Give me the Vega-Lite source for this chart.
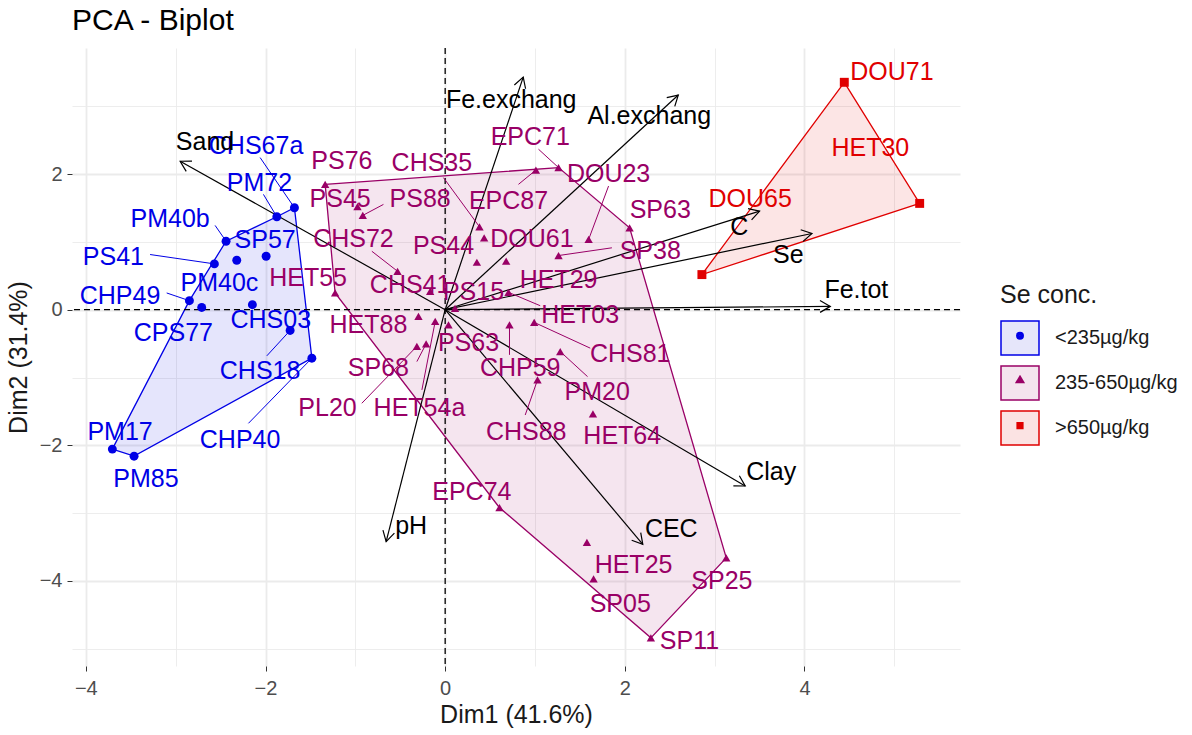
{
  "$schema": "https://vega.github.io/schema/vega-lite/v6.json",
  "autosize": {"type": "none"},
  "padding": {"left": 72, "top": 48, "right": 232, "bottom": 69},
  "width": 888,
  "height": 618,
  "background": "white",
  "title": {"text": "PCA - Biplot", "anchor": "start", "frame": "group", "fontSize": 30, "fontWeight": "normal", "color": "#000000", "offset": 11, "font": "Liberation Sans"},
  "config": {
    "font": "Liberation Sans",
    "view": {"stroke": null},
    "axis": {"domain": false, "gridColor": "#EBEBEB", "labelColor": "#4D4D4D", "labelFontSize": 20, "titleFontSize": 25, "titleFontWeight": "normal", "titleColor": "#1A1A1A", "tickColor": "#333333", "tickSize": 5, "tickWidth": 1},
    "legend": {"titleFontSize": 25, "titleFontWeight": "normal", "titleColor": "#1A1A1A", "titlePadding": 10, "labelFontSize": 20, "labelColor": "#1A1A1A", "labelOffset": 15, "symbolStrokeWidth": 1.5, "symbolOpacity": 1, "rowPadding": 3, "padding": 0}
  },
  "resolve": {"scale": {"fill": "independent", "stroke": "independent", "shape": "independent"}},
  "datasets": {
    "pts": [
      {"name": "CHS67a", "group": "<235µg/kg", "x": -1.678, "y": 1.504, "lx": -2.105, "ly": 2.411, "sx": -2.06, "sy": 2.244, "hull": 5},
      {"name": "PM72", "group": "<235µg/kg", "x": -1.874, "y": 1.371, "lx": -2.068, "ly": 1.864, "sx": -2.023, "sy": 1.701, "hull": 4},
      {"name": "PM40b", "group": "<235µg/kg", "x": -2.439, "y": 1.010, "lx": -3.062, "ly": 1.331, "sx": -2.561, "sy": 1.243, "hull": 3},
      {"name": "SP57", "group": "<235µg/kg", "x": -1.993, "y": 0.789, "lx": -2.004, "ly": 1.025, "sx": null, "sy": null, "hull": null},
      {"name": "PM40c", "group": "<235µg/kg", "x": -2.32, "y": 0.73, "lx": -2.513, "ly": 0.395, "sx": null, "sy": null, "hull": null},
      {"name": "PS41", "group": "<235µg/kg", "x": -2.569, "y": 0.676, "lx": -3.693, "ly": 0.779, "sx": -3.285, "sy": 0.814, "hull": null},
      {"name": "CHP49", "group": "<235µg/kg", "x": -2.847, "y": 0.133, "lx": -3.619, "ly": 0.207, "sx": -3.1, "sy": 0.247, "hull": 2},
      {"name": "CPS77", "group": "<235µg/kg", "x": -2.71, "y": 0.034, "lx": -3.025, "ly": -0.345, "sx": null, "sy": null, "hull": null},
      {"name": "CHS03", "group": "<235µg/kg", "x": -2.146, "y": 0.074, "lx": -1.941, "ly": -0.158, "sx": null, "sy": null, "hull": null},
      {"name": "CHS18", "group": "<235µg/kg", "x": -1.726, "y": -0.306, "lx": -2.06, "ly": -0.902, "sx": -1.985, "sy": -0.68, "hull": null},
      {"name": "CHP40", "group": "<235µg/kg", "x": -1.484, "y": -0.715, "lx": -2.283, "ly": -1.923, "sx": -2.19, "sy": -1.676, "hull": 6},
      {"name": "PM17", "group": "<235µg/kg", "x": -3.705, "y": -2.056, "lx": -3.619, "ly": -1.80, "sx": null, "sy": null, "hull": 1},
      {"name": "PM85", "group": "<235µg/kg", "x": -3.463, "y": -2.160, "lx": -3.33, "ly": -2.50, "sx": null, "sy": null, "hull": 7},
      {"name": "PS76", "group": "235-650µg/kg", "x": -1.336, "y": 1.849, "lx": -1.15, "ly": 2.194, "sx": null, "sy": null, "hull": 1},
      {"name": "PS45", "group": "235-650µg/kg", "x": -0.976, "y": 1.519, "lx": -1.169, "ly": 1.627, "sx": null, "sy": null, "hull": null},
      {"name": "PS88", "group": "235-650µg/kg", "x": -0.917, "y": 1.391, "lx": -0.278, "ly": 1.627, "sx": -0.687, "sy": 1.553, "hull": null},
      {"name": "CHS35", "group": "235-650µg/kg", "x": 0.382, "y": 1.223, "lx": -0.148, "ly": 2.17, "sx": -0.019, "sy": 1.948, "hull": null},
      {"name": "EPC71", "group": "235-650µg/kg", "x": 1.262, "y": 2.096, "lx": 0.947, "ly": 2.54, "sx": 1.039, "sy": 2.367, "hull": 2},
      {"name": "EPC87", "group": "235-650µg/kg", "x": 1.01, "y": 2.06, "lx": 0.705, "ly": 1.602, "sx": 0.816, "sy": 1.849, "hull": null},
      {"name": "DOU23", "group": "235-650µg/kg", "x": 1.597, "y": 1.036, "lx": 1.819, "ly": 1.997, "sx": 1.819, "sy": 1.824, "hull": null},
      {"name": "SP63", "group": "235-650µg/kg", "x": 2.053, "y": 1.208, "lx": 2.394, "ly": 1.464, "sx": null, "sy": null, "hull": 3},
      {"name": "SP38", "group": "235-650µg/kg", "x": 1.262, "y": 0.799, "lx": 2.283, "ly": 0.862, "sx": 1.856, "sy": 0.913, "hull": null},
      {"name": "DOU61", "group": "235-650µg/kg", "x": 0.434, "y": 1.06, "lx": 0.965, "ly": 1.036, "sx": null, "sy": null, "hull": null},
      {"name": "PS44", "group": "235-650µg/kg", "x": 0.353, "y": 0.70, "lx": -0.019, "ly": 0.936, "sx": null, "sy": null, "hull": null},
      {"name": "CHS72", "group": "235-650µg/kg", "x": -0.53, "y": 0.567, "lx": -1.021, "ly": 1.036, "sx": -0.816, "sy": 0.862, "hull": null},
      {"name": "HET55", "group": "235-650µg/kg", "x": -1.225, "y": 0.247, "lx": -1.526, "ly": 0.473, "sx": null, "sy": null, "hull": 7},
      {"name": "CHS41", "group": "235-650µg/kg", "x": -0.167, "y": 0.271, "lx": -0.39, "ly": 0.37, "sx": null, "sy": null, "hull": null},
      {"name": "PS15", "group": "235-650µg/kg", "x": 0.11, "y": 0.02, "lx": 0.315, "ly": 0.256, "sx": null, "sy": null, "hull": null},
      {"name": "HET29", "group": "235-650µg/kg", "x": 0.679, "y": 0.715, "lx": 1.262, "ly": 0.444, "sx": null, "sy": null, "hull": null},
      {"name": "HET03", "group": "235-650µg/kg", "x": 0.705, "y": 0.256, "lx": 1.503, "ly": -0.074, "sx": 1.058, "sy": 0.059, "hull": null},
      {"name": "HET88", "group": "235-650µg/kg", "x": -0.297, "y": -0.099, "lx": -0.854, "ly": -0.222, "sx": null, "sy": null, "hull": null},
      {"name": "PS63", "group": "235-650µg/kg", "x": 0.037, "y": -0.222, "lx": 0.26, "ly": -0.493, "sx": null, "sy": null, "hull": null},
      {"name": "CHP59", "group": "235-650µg/kg", "x": 0.716, "y": -0.222, "lx": 0.835, "ly": -0.858, "sx": 0.716, "sy": -0.666, "hull": null},
      {"name": "CHS81", "group": "235-650µg/kg", "x": 0.991, "y": -0.187, "lx": 2.06, "ly": -0.651, "sx": 1.615, "sy": -0.567, "hull": null},
      {"name": "PM20", "group": "235-650µg/kg", "x": 1.281, "y": -0.617, "lx": 1.693, "ly": -1.213, "sx": 1.585, "sy": -0.987, "hull": null},
      {"name": "CHS88", "group": "235-650µg/kg", "x": 1.028, "y": -1.036, "lx": 0.902, "ly": -1.805, "sx": 0.891, "sy": -1.553, "hull": null},
      {"name": "HET64", "group": "235-650µg/kg", "x": 1.645, "y": -1.538, "lx": 1.971, "ly": -1.864, "sx": null, "sy": null, "hull": null},
      {"name": "SP68", "group": "235-650µg/kg", "x": -0.212, "y": -0.503, "lx": -0.743, "ly": -0.863, "sx": -0.315, "sy": -0.765, "hull": null},
      {"name": "PL20", "group": "235-650µg/kg", "x": -0.315, "y": -0.54, "lx": -1.31, "ly": -1.454, "sx": -0.928, "sy": -1.38, "hull": null},
      {"name": "HET54a", "group": "235-650µg/kg", "x": -0.111, "y": -0.173, "lx": -0.286, "ly": -1.454, "sx": -0.259, "sy": -1.183, "hull": null},
      {"name": "EPC74", "group": "235-650µg/kg", "x": 0.605, "y": -2.92, "lx": 0.297, "ly": -2.688, "sx": null, "sy": null, "hull": 6},
      {"name": "HET25", "group": "235-650µg/kg", "x": 1.578, "y": -3.43, "lx": 2.097, "ly": -3.772, "sx": null, "sy": null, "hull": null},
      {"name": "SP05", "group": "235-650µg/kg", "x": 1.652, "y": -3.97, "lx": 1.949, "ly": -4.339, "sx": null, "sy": null, "hull": null},
      {"name": "SP25", "group": "235-650µg/kg", "x": 3.129, "y": -3.66, "lx": 3.081, "ly": -3.994, "sx": null, "sy": null, "hull": 4},
      {"name": "SP11", "group": "235-650µg/kg", "x": 2.29, "y": -4.84, "lx": 2.72, "ly": -4.88, "sx": null, "sy": null, "hull": 5},
      {"name": "DOU71", "group": ">650µg/kg", "x": 4.443, "y": 3.354, "lx": 4.974, "ly": 3.50, "sx": null, "sy": null, "hull": 1},
      {"name": "HET30", "group": ">650µg/kg", "x": 5.282, "y": 1.568, "lx": 4.733, "ly": 2.392, "sx": null, "sy": null, "hull": 2},
      {"name": "DOU65", "group": ">650µg/kg", "x": 2.858, "y": 0.518, "lx": 3.396, "ly": 1.627, "sx": null, "sy": null, "hull": 3}
    ],
    "vars": [
      {"name": "Fe.exchang", "x": 0.869, "y": 3.43, "lx": 0.735, "ly": 3.092},
      {"name": "Al.exchang", "x": 2.595, "y": 3.166, "lx": 2.272, "ly": 2.855},
      {"name": "Sand", "x": -2.95, "y": 2.19, "lx": -2.673, "ly": 2.47},
      {"name": "C", "x": 3.50, "y": 1.454, "lx": 3.274, "ly": 1.213},
      {"name": "Se", "x": 4.083, "y": 1.124, "lx": 3.82, "ly": 0.80},
      {"name": "Fe.tot", "x": 4.287, "y": 0.049, "lx": 4.577, "ly": 0.296},
      {"name": "Clay", "x": 3.34, "y": -2.60, "lx": 3.63, "ly": -2.396},
      {"name": "CEC", "x": 2.20, "y": -3.46, "lx": 2.517, "ly": -3.24},
      {"name": "pH", "x": -0.657, "y": -3.42, "lx": -0.379, "ly": -3.195}
    ]
  },
  "layer": [
    {
      "data": {"name": "pts"},
      "transform": [{"filter": "isValid(datum.hull)"}],
      "mark": {"type": "line", "interpolate": "linear-closed", "strokeWidth": 1.3, "fillOpacity": 0.1},
      "encoding": {
        "x": {"field": "x", "type": "quantitative", "title": "Dim1 (41.6%)",
          "scale": {"domain": [-4.154, 5.731], "nice": false, "zero": false},
          "axis": {"values": [-4, -3, -2, -1, 0, 1, 2, 3, 4, 5], "format": "d", "labelExpr": "datum.value % 2 === 0 ? datum.label : ''",
            "gridWidth": {"condition": {"test": "datum.value % 2 === 0", "value": 1.8}, "value": 0.9},
            "tickOpacity": {"condition": {"test": "datum.value % 2 === 0", "value": 1}, "value": 0},
            "labelPadding": 7, "titlePadding": 4, "labelFlush": false}},
        "y": {"field": "y", "type": "quantitative", "title": "Dim2 (31.4%)",
          "scale": {"domain": [-5.255, 3.86], "nice": false, "zero": false},
          "axis": {"values": [-5, -4, -3, -2, -1, 0, 1, 2, 3], "format": "d", "labelExpr": "datum.value % 2 === 0 ? datum.label : ''",
            "gridWidth": {"condition": {"test": "datum.value % 2 === 0", "value": 1.8}, "value": 0.9},
            "tickOpacity": {"condition": {"test": "datum.value % 2 === 0", "value": 1}, "value": 0},
            "labelPadding": 5, "titlePadding": 8, "labelFlush": false}},
        "order": {"field": "hull", "type": "quantitative"},
        "color": {"field": "group", "type": "nominal", "legend": null,
          "scale": {"range": ["#990066", "#0000E6", "#E00000"]}},
        "fill": {"field": "group", "type": "nominal", "legend": null,
          "scale": {"range": ["#990066", "#0000E6", "#E00000"]}}
      }
    },
    {
      "data": {"values": [{}]},
      "mark": {"type": "rule", "strokeDash": [6, 4], "strokeWidth": 1.3, "color": "#000000"},
      "encoding": {"x": {"datum": 0, "type": "quantitative", "title": "Dim1 (41.6%)"}}
    },
    {
      "data": {"values": [{}]},
      "mark": {"type": "rule", "strokeDash": [6, 4], "strokeWidth": 1.3, "color": "#000000"},
      "encoding": {"y": {"datum": 0, "type": "quantitative", "title": "Dim2 (31.4%)"}}
    },
    {
      "data": {"name": "vars"},
      "mark": {"type": "rule", "strokeWidth": 1.2, "color": "#000000"},
      "encoding": {
        "x": {"field": "x", "type": "quantitative", "title": "Dim1 (41.6%)"},
        "y": {"field": "y", "type": "quantitative", "title": "Dim2 (31.4%)"},
        "x2": {"datum": 0},
        "y2": {"datum": 0}
      }
    },
    {
      "data": {"name": "vars"},
      "transform": [{"calculate": "(atan2(-datum.y*67.8, datum.x*89.83)*180/PI + 360) % 360", "as": "ang"}],
      "mark": {"type": "point", "shape": "M-1,-0.577L0,0L-1,0.577", "filled": false, "size": 420, "strokeWidth": 1.2, "color": "#000000", "opacity": 1},
      "encoding": {
        "x": {"field": "x", "type": "quantitative", "title": "Dim1 (41.6%)"},
        "y": {"field": "y", "type": "quantitative", "title": "Dim2 (31.4%)"},
        "angle": {"field": "ang", "type": "quantitative", "scale": null}
      }
    },
    {
      "data": {"name": "pts"},
      "transform": [{"filter": "isValid(datum.sx)"}],
      "mark": {"type": "rule", "strokeWidth": 1},
      "encoding": {
        "x": {"field": "x", "type": "quantitative", "title": "Dim1 (41.6%)"},
        "y": {"field": "y", "type": "quantitative", "title": "Dim2 (31.4%)"},
        "x2": {"field": "sx"},
        "y2": {"field": "sy"},
        "color": {"field": "group", "type": "nominal", "legend": null}
      }
    },
    {
      "data": {"name": "pts"},
      "transform": [{"filter": "datum.group === '<235µg/kg'"}],
      "mark": {"type": "point", "shape": "circle", "filled": true, "size": 80, "opacity": 1},
      "encoding": {
        "x": {"field": "x", "type": "quantitative", "title": "Dim1 (41.6%)"},
        "y": {"field": "y", "type": "quantitative", "title": "Dim2 (31.4%)"},
        "color": {"field": "group", "type": "nominal", "legend": null}
      }
    },
    {
      "data": {"name": "pts"},
      "transform": [{"filter": "datum.group === '235-650µg/kg'"}],
      "mark": {"type": "point", "shape": "triangle-up", "filled": true, "size": 70, "opacity": 1},
      "encoding": {
        "x": {"field": "x", "type": "quantitative", "title": "Dim1 (41.6%)"},
        "y": {"field": "y", "type": "quantitative", "title": "Dim2 (31.4%)"},
        "color": {"field": "group", "type": "nominal", "legend": null}
      }
    },
    {
      "data": {"name": "pts"},
      "transform": [{"filter": "datum.group === '>650µg/kg'"}],
      "mark": {"type": "point", "shape": "square", "filled": true, "size": 80, "opacity": 1},
      "encoding": {
        "x": {"field": "x", "type": "quantitative", "title": "Dim1 (41.6%)"},
        "y": {"field": "y", "type": "quantitative", "title": "Dim2 (31.4%)"},
        "color": {"field": "group", "type": "nominal", "legend": null}
      }
    },
    {
      "data": {"name": "pts"},
      "mark": {"type": "text", "fontSize": 25, "align": "center", "baseline": "middle"},
      "encoding": {
        "x": {"field": "lx", "type": "quantitative", "title": "Dim1 (41.6%)"},
        "y": {"field": "ly", "type": "quantitative", "title": "Dim2 (31.4%)"},
        "text": {"field": "name"},
        "color": {"field": "group", "type": "nominal", "legend": null}
      }
    },
    {
      "data": {"name": "vars"},
      "mark": {"type": "text", "fontSize": 25, "align": "center", "baseline": "middle", "color": "#000000"},
      "encoding": {
        "x": {"field": "lx", "type": "quantitative", "title": "Dim1 (41.6%)"},
        "y": {"field": "ly", "type": "quantitative", "title": "Dim2 (31.4%)"},
        "text": {"field": "name"}
      }
    },
    {
      "data": {"name": "pts"},
      "transform": [{"filter": "datum.x > 100"}],
      "mark": {"type": "point", "filled": true, "size": 1444, "opacity": 1, "strokeWidth": 1.5},
      "encoding": {
        "x": {"field": "x", "type": "quantitative", "title": "Dim1 (41.6%)"},
        "y": {"field": "y", "type": "quantitative", "title": "Dim2 (31.4%)"},
        "fill": {"field": "group", "type": "nominal",
          "scale": {"domain": ["<235µg/kg", "235-650µg/kg", ">650µg/kg"], "range": ["#E6E6FA", "#F4E4EE", "#FBE3E3"]},
          "legend": {"title": "Se conc.", "orient": "none", "legendX": 928, "legendY": 235, "symbolSize": 1444}},
        "stroke": {"field": "group", "type": "nominal",
          "scale": {"domain": ["<235µg/kg", "235-650µg/kg", ">650µg/kg"], "range": ["#0000E6", "#990066", "#E00000"]},
          "legend": {"title": "Se conc.", "orient": "none", "legendX": 928, "legendY": 235, "symbolSize": 1444}},
        "shape": {"field": "group", "type": "nominal",
          "scale": {"domain": ["<235µg/kg", "235-650µg/kg", ">650µg/kg"],
            "range": [
              "M-1,-0.895L1,-0.895L1,0.895L-1,0.895Z M-0.17,-0.12A0.17,0.17 0 1,1 0.17,-0.12A0.17,0.17 0 1,1 -0.17,-0.12Z M-0.11,-0.12A0.11,0.11 0 1,1 0.11,-0.12A0.11,0.11 0 1,1 -0.11,-0.12Z M-0.05,-0.12A0.05,0.05 0 1,1 0.05,-0.12A0.05,0.05 0 1,1 -0.05,-0.12Z",
              "M-1,-0.895L1,-0.895L1,0.895L-1,0.895Z M0,-0.36L0.2,-0.02L-0.2,-0.02Z M0,-0.27L0.12,-0.06L-0.12,-0.06Z M0,-0.19L0.05,-0.1L-0.05,-0.1Z",
              "M-1,-0.895L1,-0.895L1,0.895L-1,0.895Z M-0.15,-0.27L0.15,-0.27L0.15,0.03L-0.15,0.03Z M-0.09,-0.21L0.09,-0.21L0.09,-0.03L-0.09,-0.03Z M-0.03,-0.15L0.03,-0.15L0.03,-0.09L-0.03,-0.09Z"
            ]},
          "legend": {"title": "Se conc.", "orient": "none", "legendX": 928, "legendY": 235, "symbolSize": 1444}}
      }
    }
  ]
}
